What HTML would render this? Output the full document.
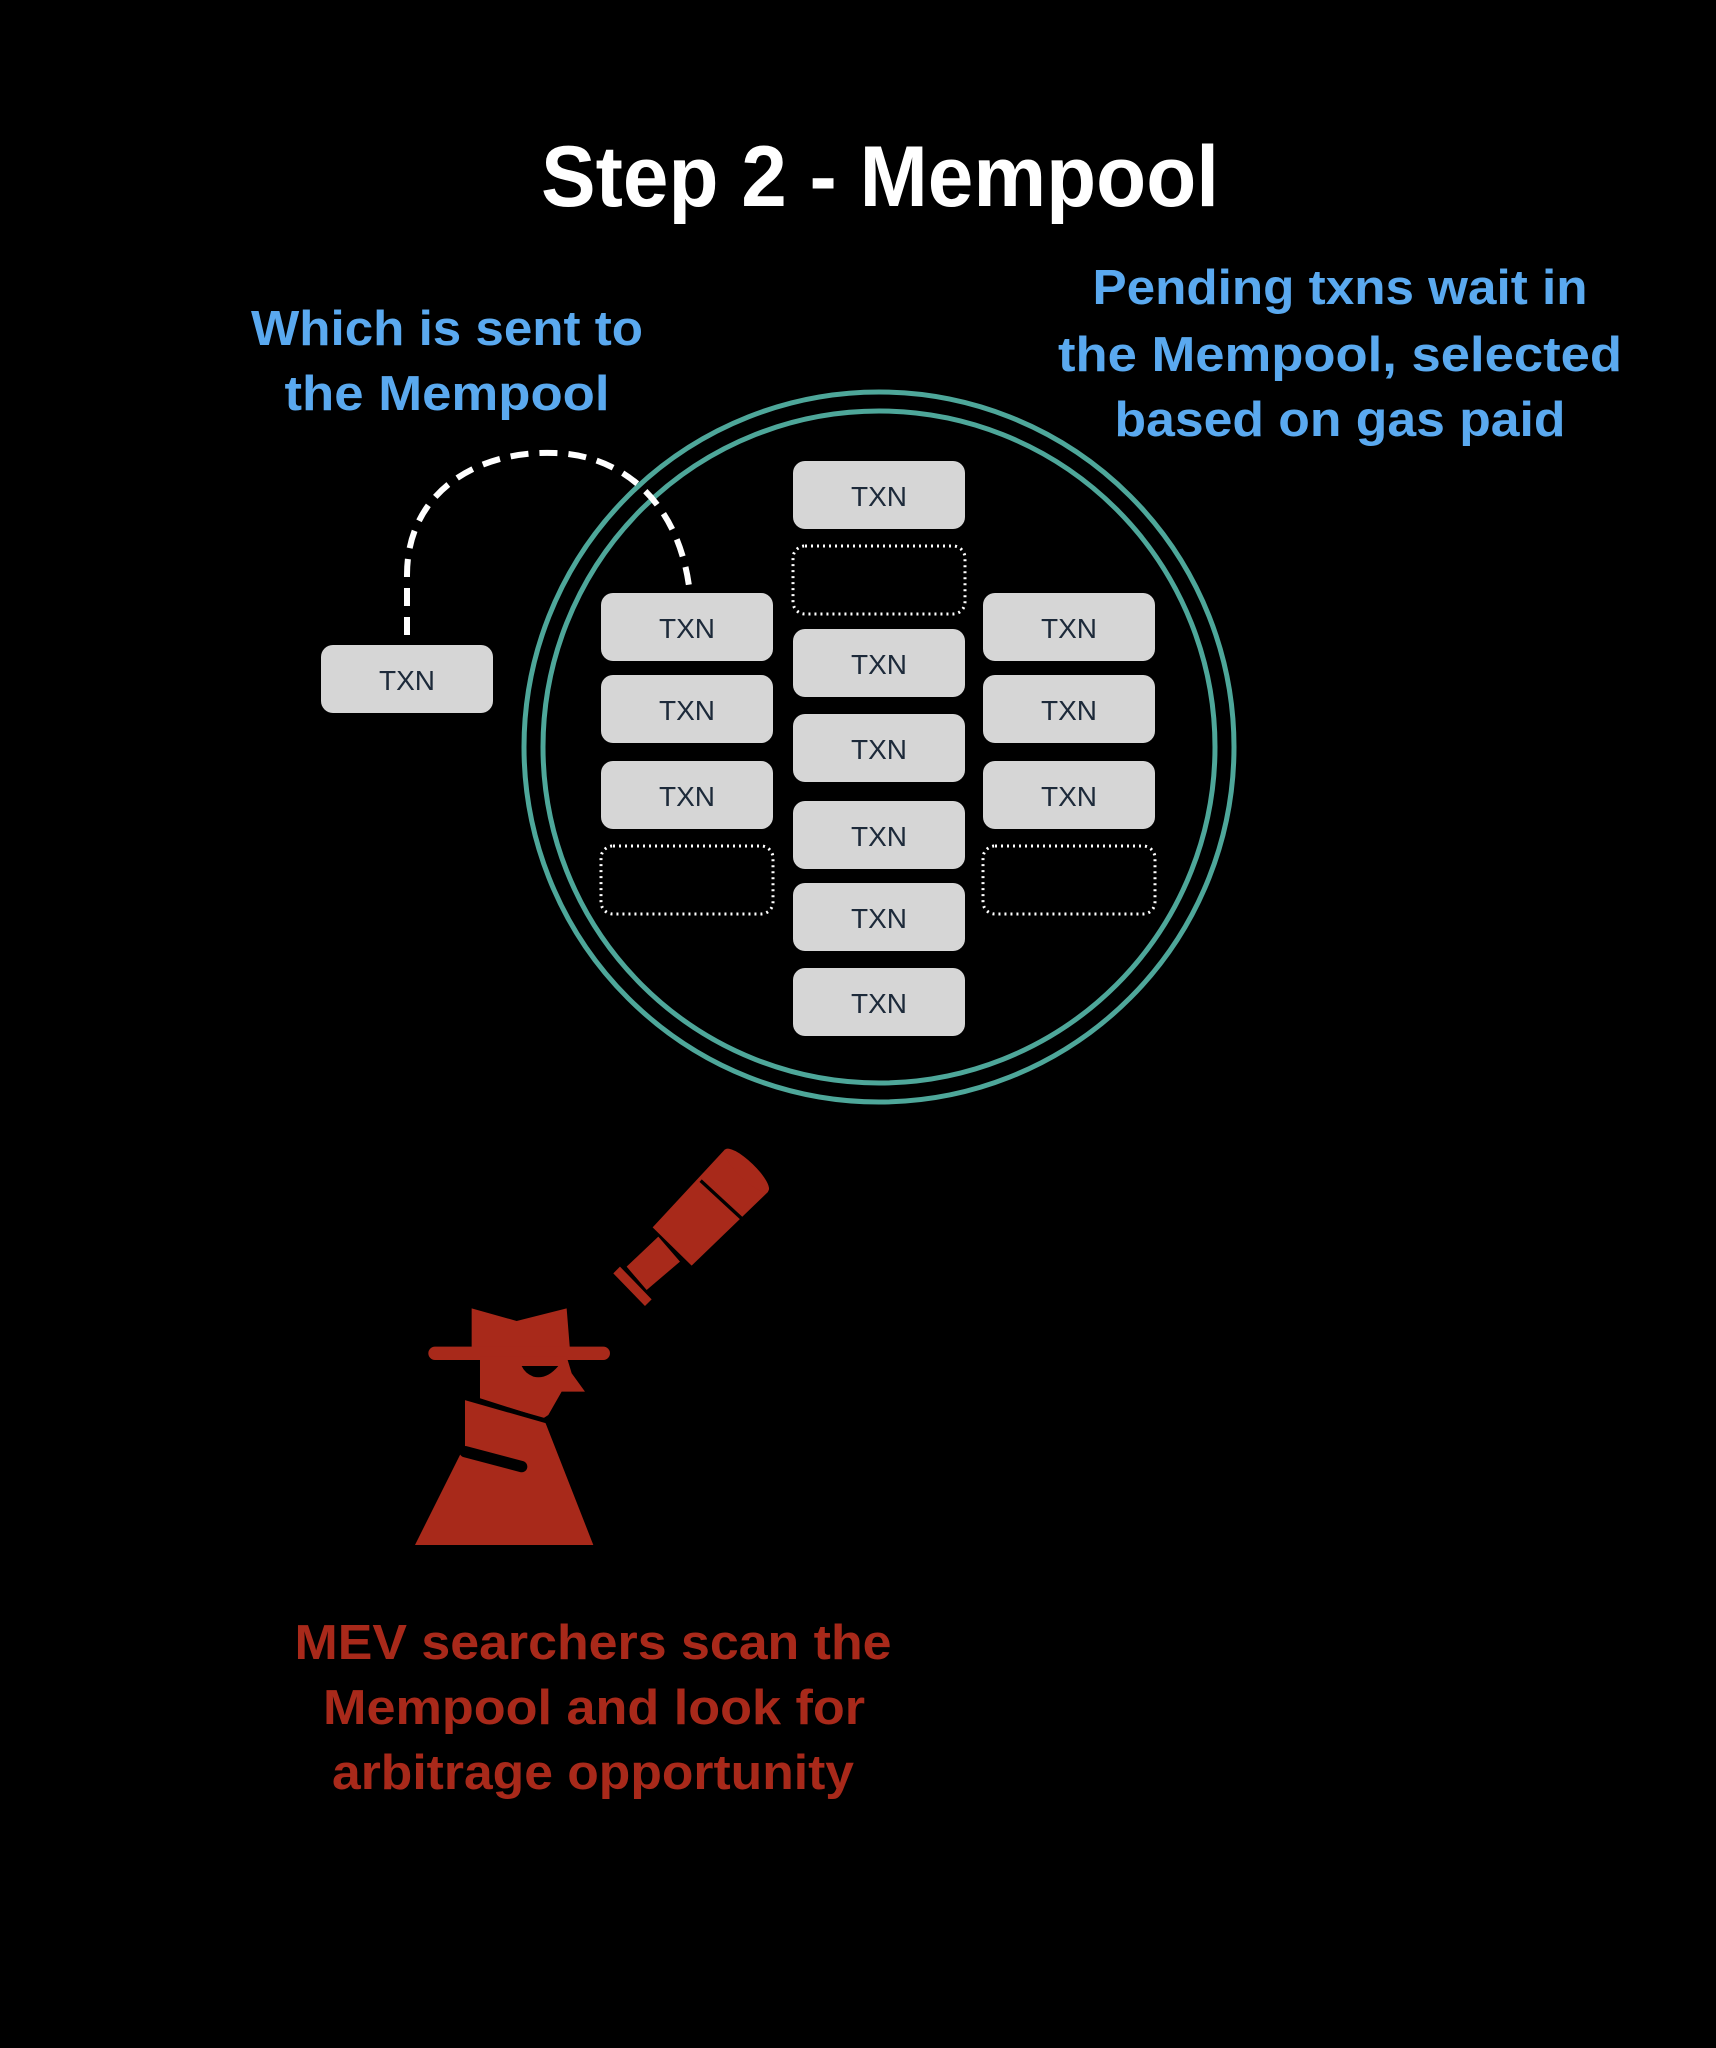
<!DOCTYPE html>
<html><head><meta charset="utf-8"><style>
html,body{margin:0;padding:0;background:#000;}
svg{display:block}
</style></head><body>
<svg width="1716" height="2048" viewBox="0 0 1716 2048" xmlns="http://www.w3.org/2000/svg">
<rect width="1716" height="2048" fill="#000"/>
<g font-family="Liberation Sans, Arial, sans-serif" font-weight="bold" text-anchor="middle">
<text x="880" y="206" font-size="86" fill="#fff" textLength="678" lengthAdjust="spacingAndGlyphs">Step 2 - Mempool</text>
<g fill="#5aa9ef" font-size="49">
<text x="447" y="345" textLength="392" lengthAdjust="spacingAndGlyphs">Which is sent to</text>
<text x="447" y="410" textLength="325" lengthAdjust="spacingAndGlyphs">the Mempool</text>
<text x="1340" y="304" textLength="495" lengthAdjust="spacingAndGlyphs">Pending txns wait in</text>
<text x="1340" y="371" textLength="564" lengthAdjust="spacingAndGlyphs">the Mempool, selected</text>
<text x="1340" y="436" textLength="451" lengthAdjust="spacingAndGlyphs">based on gas paid</text>
</g>
<g fill="#a8291a" font-size="49">
<text x="593" y="1659" textLength="597" lengthAdjust="spacingAndGlyphs">MEV searchers scan the</text>
<text x="594" y="1724" textLength="542" lengthAdjust="spacingAndGlyphs">Mempool and look for</text>
<text x="593" y="1789" textLength="522" lengthAdjust="spacingAndGlyphs">arbitrage opportunity</text>
</g>
</g>
<circle cx="879" cy="747" r="355" fill="none" stroke="#4ea79a" stroke-width="5"/>
<circle cx="879" cy="747" r="336" fill="none" stroke="#4ea79a" stroke-width="5"/>
<path d="M407,635 L407,575 C407,490 480,450 555,453 C620,455 680,500 690,594" fill="none" stroke="#fff" stroke-width="6" stroke-dasharray="18 11"/>
<g fill="#d6d6d6">
<rect x="321" y="645" width="172" height="68" rx="12"/>
<rect x="601" y="593" width="172" height="68" rx="12"/>
<rect x="601" y="675" width="172" height="68" rx="12"/>
<rect x="601" y="761" width="172" height="68" rx="12"/>
<rect x="793" y="461" width="172" height="68" rx="12"/>
<rect x="793" y="629" width="172" height="68" rx="12"/>
<rect x="793" y="714" width="172" height="68" rx="12"/>
<rect x="793" y="801" width="172" height="68" rx="12"/>
<rect x="793" y="883" width="172" height="68" rx="12"/>
<rect x="793" y="968" width="172" height="68" rx="12"/>
<rect x="983" y="593" width="172" height="68" rx="12"/>
<rect x="983" y="675" width="172" height="68" rx="12"/>
<rect x="983" y="761" width="172" height="68" rx="12"/>
</g>
<g fill="none" stroke="#fff" stroke-width="3" stroke-dasharray="2 4">
<rect x="601" y="846" width="172" height="68" rx="12"/>
<rect x="793" y="546" width="172" height="68" rx="12"/>
<rect x="983" y="846" width="172" height="68" rx="12"/>
</g>
<g font-family="Liberation Sans, Arial, sans-serif" font-size="28" fill="#1d2a3a" text-anchor="middle">
<text x="407" y="690">TXN</text>
<text x="687" y="638">TXN</text>
<text x="687" y="720">TXN</text>
<text x="687" y="806">TXN</text>
<text x="879" y="506">TXN</text>
<text x="879" y="674">TXN</text>
<text x="879" y="759">TXN</text>
<text x="879" y="846">TXN</text>
<text x="879" y="928">TXN</text>
<text x="879" y="1013">TXN</text>
<text x="1069" y="638">TXN</text>
<text x="1069" y="720">TXN</text>
<text x="1069" y="806">TXN</text>
</g>
<g transform="translate(380,1120) scale(0.3333)" fill="#a8291a">
<polygon points="1035,88 1165,215 935,437 818,322"/>
<ellipse cx="1100" cy="151" rx="90" ry="26" transform="rotate(44 1100 151)"/>
<line x1="962" y1="182" x2="1090" y2="300" stroke="#000" stroke-width="10"/>
<polygon points="835,350 900,425 800,510 740,440"/>
<polygon points="720,440 700,460 795,558 815,538"/>
<polygon points="275,565 410,603 560,565 570,690 275,690"/>
<rect x="145" y="680" width="545" height="40" rx="20"/>
<polygon points="300,710 560,710 575,760 615,815 545,815 505,885 490,895 300,835"/>
<polygon points="255,835 495,905 640,1275 105,1275 245,995 255,990"/>
<line x1="250" y1="832" x2="500" y2="903" stroke="#000" stroke-width="14"/>
<line x1="255" y1="995" x2="425" y2="1040" stroke="#000" stroke-width="34" stroke-linecap="round"/>
<path d="M425,738 L535,738 Q500,780 460,770 Q435,760 425,738 Z" fill="#000"/>
</g>
</svg>
</body></html>
